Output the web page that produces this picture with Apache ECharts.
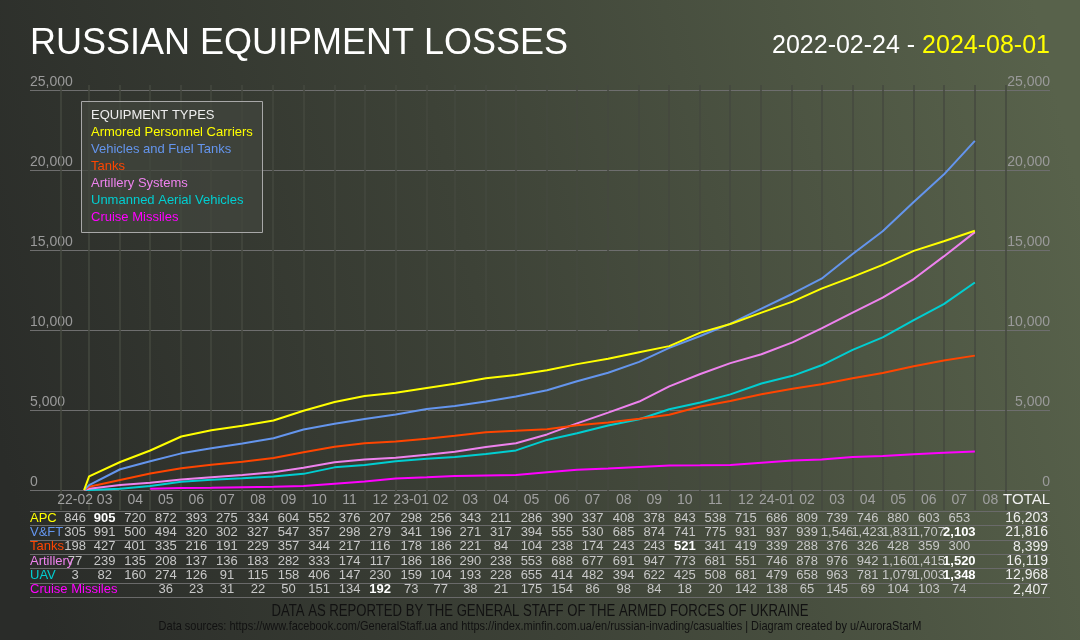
<!DOCTYPE html>
<html>
<head>
<meta charset="utf-8">
<title>Russian equipment losses</title>
<script src="https://cdn.jsdelivr.net/npm/echarts@6/dist/echarts.min.js"></script>
<style>
  html, body { margin: 0; padding: 0; background: #2b2d2a; }
  #chart { width: 1080px; height: 640px; }
</style>
</head>
<body>
<div id="chart"></div>
<script>
// month columns, 2022-02 .. 2024-08
var monthLabels = ['22-02','03','04','05','06','07','08','09','10','11','12',
  '23-01','02','03','04','05','06','07','08','09','10','11','12',
  '24-01','02','03','04','05','06','07','08'];

var rowNames = ['APC', 'V&FT', 'Tanks', 'Artillery', 'UAV', 'Cruise Missiles'];
var legendNames = ['Armored Personnel Carriers', 'Vehicles and Fuel Tanks', 'Tanks',
  'Artillery Systems', 'Unmanned Aerial Vehicles', 'Cruise Missiles'];
var colors = ['#ffff00', '#6495ed', '#ff4500', '#ee82ee', '#00ced1', '#ff00ff'];

// monthly losses as printed in the table
var apc = [846,905,720,872,393,275,334,604,552,376,207,298,256,343,211,286,390,337,408,378,843,538,715,686,809,739,746,880,603,653];
var vft = [305,991,500,494,320,302,327,547,357,298,279,341,196,271,317,394,555,530,685,874,741,775,931,937,939,1546,1423,1831,1707,2103];
var tanks = [198,427,401,335,216,191,229,357,344,217,116,178,186,221,84,104,238,174,243,243,521,341,419,339,288,376,326,428,359,300];
var artillery = [77,239,135,208,137,136,183,282,333,174,117,186,186,290,238,553,688,677,691,947,773,681,551,746,878,976,942,1160,1415,1520];
var uav = [3,82,160,274,126,91,115,158,406,147,230,159,104,193,228,655,414,482,394,622,425,508,681,479,658,963,781,1079,1003,1348];
var cruise = [null,null,null,36,23,31,22,50,151,134,192,73,77,38,21,175,154,86,98,84,18,20,142,138,65,145,69,104,103,74];
var cruiseStart = 84;   // first reported count, not shown in the table
var totals = [16203, 21816, 8399, 16119, 12968, 2407];

var rows = [apc, vft, tanks, artillery, uav, cruise];

function monthStart(i) { return new Date(2022, 1 + i, 1).getTime(); }

function cumulative(monthly, start, startValue) {
  var s = startValue;
  var pts = [[start, s]];
  monthly.forEach(function (v, i) {
    if (v == null) return;
    s += v;
    pts.push([monthStart(i + 1), s]);
  });
  return pts;
}

var fmt = function (v) { return v.toLocaleString('en-US'); };

var series = rows.map(function (r, k) {
  var start = k === 5 ? new Date(2022, 4, 1).getTime() : new Date(2022, 1, 24).getTime();
  return {
    name: legendNames[k],
    type: 'line',
    data: cumulative(r, start, k === 5 ? cruiseStart : 0),
    showSymbol: false,
    lineStyle: { color: colors[k], width: 2 },
    itemStyle: { color: colors[k] },
    yAxisIndex: 0,
    z: 10 - k
  };
});

var myChart = echarts.init(document.getElementById('chart'));

var option = {
  backgroundColor: {
    type: 'linear', x: 0, y: 0.7, x2: 1, y2: 0.3,
    colorStops: [
      { offset: 0, color: '#2a2c29' },
      { offset: 0.45, color: '#3d4237' },
      { offset: 1, color: '#58624b' }
    ]
  },
  animation: false,
  grid: { left: 30, right: 30, top: 90, bottom: 150, containLabel: false },
  xAxis: {
    type: 'time',
    min: new Date(2022, 0, 1).getTime(),
    max: new Date(2024, 9, 15).getTime(),
    axisLabel: { show: false },
    axisLine: { show: false },
    axisTick: { show: false },
    splitLine: { show: false }
  },
  yAxis: [
    {
      type: 'value', min: 0, max: 25000, interval: 5000, position: 'left',
      axisLine: { show: false }, axisTick: { show: false },
      axisLabel: { inside: true, margin: 0, verticalAlign: 'bottom', padding: [0, 0, 1, 0],
        color: '#9a9a9a', fontSize: 14, fontFamily: 'Liberation Sans, Arial', formatter: fmt },
      splitLine: { lineStyle: { color: '#6e6e6e', width: 1.2 } }
    },
    {
      type: 'value', min: 0, max: 25000, interval: 5000, position: 'right',
      axisLine: { show: false }, axisTick: { show: false },
      axisLabel: { inside: true, margin: 0, verticalAlign: 'bottom', padding: [0, 0, 1, 0],
        color: '#9a9a9a', fontSize: 14, fontFamily: 'Liberation Sans, Arial', formatter: fmt },
      splitLine: { show: false }
    }
  ],
  series: series
};

myChart.setOption(option);

// table, month grid, legend box and titles
var font = 'Liberation Sans, Arial, sans-serif';
var g = [];

function txt(x, y, text, fill, size, align, weight, sx) {
  g.push({
    type: 'text', silent: true, z: 100,
    x: x, y: y, scaleX: sx || 1,
    style: {
      x: 0, y: 0, text: text, fill: fill,
      fontSize: size, fontFamily: font, fontWeight: weight || 'normal',
      align: align || 'center', verticalAlign: 'middle',
      textAlign: align || 'center', textVerticalAlign: 'middle'
    }
  });
}
function hline(x1, x2, y, color, w) {
  g.push({ type: 'line', silent: true, z: 50,
    shape: { x1: x1, y1: y, x2: x2, y2: y }, style: { stroke: color, lineWidth: w } });
}
function vline(x, y1, y2, color, w) {
  g.push({ type: 'line', silent: true, z: 1,
    shape: { x1: x, y1: y1, x2: x, y2: y2 }, style: { stroke: color, lineWidth: w } });
}

var px = [];
for (var i = 0; i <= monthLabels.length; i++) {
  px.push(myChart.convertToPixel({ xAxisIndex: 0 }, monthStart(i)));
}
px.forEach(function (x) { vline(Math.round(x), 85, 510, '#45493f', 1.5); });

var headerY = 500;
monthLabels.forEach(function (lab, i) {
  txt((px[i] + px[i + 1]) / 2, headerY, lab, '#a0a0a0', 14);
});
txt(1050, headerY, 'TOTAL', '#f0f0f0', 15, 'right');

var tableTop = 511, rowH = 14.33;
for (var k = 0; k <= rows.length; k++) {
  hline(30, 1050, Math.round(tableTop + k * rowH) + 0.5, '#6a6a6a', 1);
}

rows.forEach(function (r, k) {
  var y = tableTop + rowH * (k + 0.5);
  var max = Math.max.apply(null, r.filter(function (v) { return v != null; }));
  r.forEach(function (v, i) {
    if (v == null) return;
    var best = v === max;
    txt((px[i] + px[i + 1]) / 2, y, fmt(v), best ? '#ffffff' : '#c8c8c8', 13, 'center', best ? 'bold' : 'normal');
  });
  txt(30, y, rowNames[k], colors[k], 13, 'left');
  txt(1048, y, fmt(totals[k]), '#eeeeee', 14, 'right');
});

// legend box
g.push({ type: 'rect', silent: true, z: 60,
  shape: { x: 81.5, y: 101.5, width: 181, height: 131 },
  style: { fill: 'rgba(66,70,62,0.75)', stroke: '#a8a8a8', lineWidth: 1 } });
txt(91, 115, 'EQUIPMENT TYPES', '#eeeeee', 13, 'left');
legendNames.forEach(function (n, k) {
  txt(91, 132 + 17 * k, n, colors[k], 13, 'left');
});

// titles
txt(30, 44, 'RUSSIAN EQUIPMENT LOSSES', '#ffffff', 36, 'left');
g.push({ type: 'text', silent: true, z: 100,
  style: {
    x: 1050, y: 46, align: 'right', verticalAlign: 'middle',
    textAlign: 'right', textVerticalAlign: 'middle',
    text: '{a|2022-02-24 - }{b|2024-08-01}',
    rich: {
      a: { fill: '#ffffff', color: '#ffffff', fontSize: 25, fontFamily: font },
      b: { fill: '#ffff00', color: '#ffff00', fontSize: 25, fontFamily: font }
    }
  } });

// footer (condensed)
txt(540, 612, 'DATA AS REPORTED BY THE GENERAL STAFF OF THE ARMED FORCES OF UKRAINE', '#111111', 16, 'center', 'normal', 0.82);
txt(540, 626, 'Data sources: https://www.facebook.com/GeneralStaff.ua and https://index.minfin.com.ua/en/russian-invading/casualties | Diagram created by u/AuroraStarM', '#111111', 13, 'center', 'normal', 0.845);

myChart.setOption({ graphic: { elements: g } });
</script>
</body>
</html>
